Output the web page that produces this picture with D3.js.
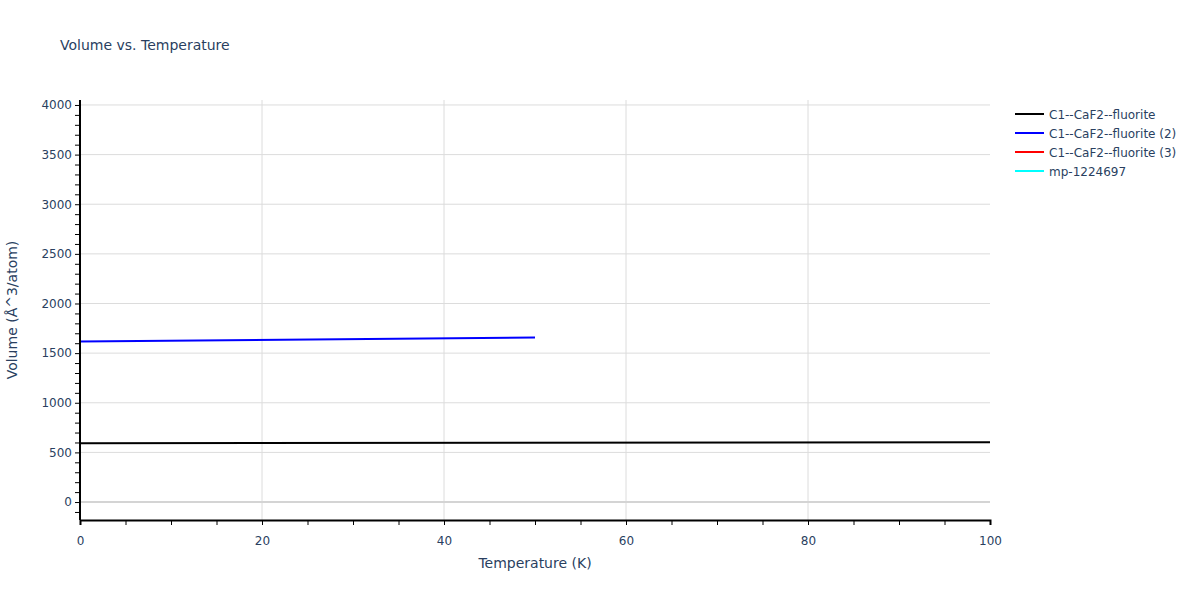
<!DOCTYPE html>
<html><head><meta charset="utf-8">
<script src="https://cdn.jsdelivr.net/npm/d3@7"></script>
<style>body{margin:0;background:#fff;} text{font-family:"DejaVu Sans",Verdana,sans-serif;}</style>
</head><body><svg id="c" width="1200" height="600"></svg>
<script>
const seriesNames = ["C1--CaF2--fluorite","C1--CaF2--fluorite (2)","C1--CaF2--fluorite (3)","mp-1224697"];
const seriesColors = ["#000000","#0000ff","#ff0000","#00ffff"];
const s1T = [0, 100];
const s1V = [593, 601];
const s2T = [0, 50];
const s2V = [1618, 1657];
const s3T = [];
const s3V = [];
const s4T = [];
const s4V = [];
const xTicks = [0,20,40,60,80,100];
const yTicks = [0,500,1000,1500,2000,2500,3000,3500,4000];

const svg = d3.select("#c");
const L=80,R=990,T=100,B=520;
const x = d3.scaleLinear().domain([0,100]).range([L,R]);
const y = d3.scaleLinear().domain([-181,4050]).range([B,T]);
const txt="#2a3f5f", grid="#dcdcdc";

// grid
svg.append("g").selectAll("line").data(xTicks.slice(1,-1)).join("line")
  .attr("x1",d=>x(d)).attr("x2",d=>x(d)).attr("y1",T).attr("y2",B)
  .attr("stroke",grid).attr("stroke-width",1);
svg.append("g").selectAll("line").data(yTicks.filter(d=>d!==0)).join("line")
  .attr("x1",L).attr("x2",R).attr("y1",d=>y(d)).attr("y2",d=>y(d))
  .attr("stroke",grid).attr("stroke-width",1);
// zeroline
svg.append("line").attr("x1",L).attr("x2",R).attr("y1",y(0)).attr("y2",y(0))
  .attr("stroke","#d4d4d4").attr("stroke-width",2);

// lines
const series=[[s1T,s1V],[s2T,s2V],[s3T,s3V],[s4T,s4V]];
const line=d3.line().x(d=>x(d[0])).y(d=>y(d[1]));
series.forEach((s,i)=>{
  const pts=s[0].map((t,j)=>[t,s[1][j]]);
  if(pts.length) svg.append("path").attr("d",line(pts)).attr("fill","none")
    .attr("stroke",seriesColors[i]).attr("stroke-width",2);
});

// axes
const xMinor=d3.range(0,101,5);
const yMinor=d3.range(-100,4001,100);
const xa=svg.append("g").attr("transform",`translate(0,${B})`)
  .call(d3.axisBottom(x).tickValues(xMinor).tickSize(5).tickFormat(""));
xa.select(".domain").attr("stroke","#000").attr("stroke-width",2);
xa.selectAll(".tick line").attr("stroke","#000");
const xl=svg.append("g").attr("transform",`translate(0,${B})`)
  .call(d3.axisBottom(x).tickValues(xTicks).tickSize(0).tickPadding(16).tickFormat(d3.format("d")));
xl.select(".domain").remove();
xl.selectAll("text").attr("fill",txt).style("font-size","12px");

const ya=svg.append("g").attr("transform",`translate(${L},0)`)
  .call(d3.axisLeft(y).tickValues(yMinor).tickSize(5).tickFormat(""));
ya.select(".domain").attr("stroke","#000").attr("stroke-width",2).attr("d",`M0,${B}V${T}`);
ya.selectAll(".tick line").attr("stroke","#000");
const yl=svg.append("g").attr("transform",`translate(${L},0)`)
  .call(d3.axisLeft(y).tickValues(yTicks).tickSize(0).tickPadding(8).tickFormat(d3.format("d")));
yl.select(".domain").remove();
yl.selectAll("text").attr("fill",txt).style("font-size","12px");

// titles
svg.append("text").attr("x",60).attr("y",50).attr("fill",txt).style("font-size","14px").text("Volume vs. Temperature");
svg.append("text").attr("x",(L+R)/2).attr("y",568).attr("text-anchor","middle").attr("fill",txt).style("font-size","14px").text("Temperature (K)");
svg.append("text").attr("transform",`translate(17,${(T+B)/2}) rotate(-90)`).attr("text-anchor","middle").attr("fill",txt).style("font-size","14px").text("Volume (Å^3/atom)");

// legend
const lg=svg.append("g");
seriesNames.forEach((n,i)=>{
  const yy=114+i*19;
  lg.append("line").attr("x1",1015).attr("x2",1044).attr("y1",yy).attr("y2",yy).attr("stroke",seriesColors[i]).attr("stroke-width",2);
  lg.append("text").attr("x",1049).attr("y",yy+4.5).attr("fill",txt).style("font-size","12px").text(n);
});
</script></body></html>
